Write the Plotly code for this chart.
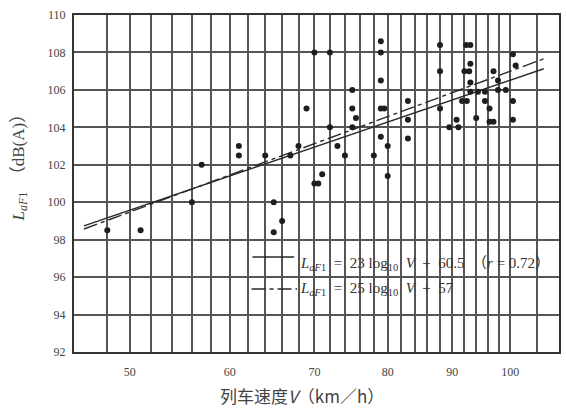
import math
import plotly.graph_objects as go

# ---- data ----
speed = [48, 51, 56, 57, 61, 61, 64, 65, 65, 66, 67, 68, 69, 70, 70, 70.5, 71,
         72, 72, 73, 74, 75, 75, 75.5, 75, 78, 79, 79, 79, 79, 79.5, 79, 80, 80,
         83, 83, 83, 88, 88, 88, 89.5, 90.7, 91, 92.3, 93, 93, 92, 92.8, 93, 93,
         91.6, 92.4, 94, 94.3, 95.5, 95.5, 96.3, 96.3, 97, 97, 97.8, 97.8, 99.2,
         100.5, 101, 100.5, 100.5]
level = [98.5, 98.5, 100.0, 102.0, 103.0, 102.5, 102.5, 100.0, 98.4, 99.0, 102.5,
         103.0, 105.0, 108.0, 101.0, 101.0, 101.5, 108.0, 104.0, 103.0, 102.5,
         106.0, 105.0, 104.5, 104.0, 102.5, 108.6, 108.0, 106.5, 105.0, 105.0,
         103.5, 103.0, 101.4, 105.4, 104.4, 103.4, 108.4, 107.0, 105.0, 104.0,
         104.4, 104.0, 108.4, 108.4, 107.4, 107.0, 107.0, 106.4, 105.9, 105.4,
         105.4, 104.5, 105.9, 105.9, 105.4, 105.0, 104.3, 104.3, 107.0, 106.5,
         106.0, 106.0, 107.9, 107.3, 105.4, 104.4]

fit_speed = [46, 106.3]
fit1_level = [98.74, 107.13]   # 23 log10 V + 60.5
fit2_level = [98.57, 107.66]   # 25 log10 V + 57

x_ticks = [50, 60, 70, 80, 90, 100]
x_ticktext = ["50", "60", "70", "80", "90", "100"]
x_minor_grid = [48, 52, 54, 56, 58, 62, 64, 66, 68, 72, 74, 76, 78,
                82, 84, 86, 88, 92, 94, 96, 98, 105]
y_ticks = [92, 94, 96, 98, 100, 102, 104, 106, 108, 110]

NB = "\u00a0"
S = NB * 2
legend1 = ("<i>L</i><sub><i>aF</i>1</sub>" + S + "=" + S + "23" + NB + "log<sub>10</sub>" + S
           + "<i>V</i>" + S + "+" + S + "60.5" + S + "（<i>r</i>" + NB + "=" + NB + "0.72）")
legend2 = ("<i>L</i><sub><i>aF</i>1</sub>" + S + "=" + S + "25" + NB + "log<sub>10</sub>" + S
           + "<i>V</i>" + S + "+" + S + "57")
x_title = "列车速度<i>V</i>（km／h）"
y_title = "<i>L</i><sub><i>aF</i>1</sub>　（dB(A)）"

INK = "#2a2a2a"
GRID = "#555555"
SERIF = "Liberation Serif, DejaVu Serif, Noto Sans CJK SC, serif"

fig = go.Figure()
fig.add_trace(go.Scatter(x=fit_speed, y=fit1_level, mode="lines",
                         line=dict(color=INK, width=1.4), showlegend=False))
fig.add_trace(go.Scatter(x=fit_speed, y=fit2_level, mode="lines",
                         line=dict(color=INK, width=1.4, dash="14px,4px,4px,4px"),
                         showlegend=False))
fig.add_trace(go.Scatter(x=speed, y=level, mode="markers",
                         marker=dict(color="#1e1e1e", size=6), showlegend=False))

fig.update_layout(
    width=566, height=410,
    margin=dict(l=74, r=5, t=15, b=58),
    paper_bgcolor="white", plot_bgcolor="white",
    font=dict(family=SERIF, color="#3a3a3a", size=12),
)
fig.update_xaxes(
    type="log", range=[1.6549, 2.0386],
    tickmode="array", tickvals=x_ticks, ticktext=x_ticktext,
    showgrid=True, gridcolor=GRID, gridwidth=1.5,
    minor=dict(tickmode="array", tickvals=x_minor_grid, showgrid=True,
               gridcolor=GRID, gridwidth=1.5, ticks=""),
    ticks="", ticklabelstandoff=8,
    tickfont=dict(size=12, color="#444"),
    showline=True, linecolor="#333", linewidth=2, mirror=True,
    zeroline=False,
)
fig.update_yaxes(
    range=[92, 110], tickvals=y_ticks,
    showgrid=True, gridcolor=GRID, gridwidth=1.5,
    ticks="", ticklabelstandoff=4,
    tickfont=dict(size=12, color="#444"),
    showline=True, linecolor="#333", linewidth=2, mirror=True,
    zeroline=False,
)

# legend block (white box covering grid)
fig.add_shape(type="rect", xref="paper", yref="paper",
              x0=0.331, x1=0.994, y0=0.119, y1=0.323,
              fillcolor="white", line=dict(width=0), layer="between")
fig.add_shape(type="line", xref="paper", yref="paper",
              x0=0.368, x1=0.454, y0=0.282, y1=0.282,
              line=dict(color=INK, width=1.4))
fig.add_shape(type="line", xref="paper", yref="paper",
              x0=0.366, x1=0.460, y0=0.187, y1=0.187,
              line=dict(color=INK, width=1.4, dash="14px,4px,4px,4px"))
fig.add_annotation(text=legend1, xref="paper", yref="paper", x=0.462, y=0.262,
                   xanchor="left", yanchor="middle", showarrow=False,
                   font=dict(family=SERIF, size=15, color="#333"))
fig.add_annotation(text=legend2, xref="paper", yref="paper", x=0.462, y=0.188,
                   xanchor="left", yanchor="middle", showarrow=False,
                   font=dict(family=SERIF, size=15, color="#333"))

fig.add_annotation(text=x_title, xref="paper", yref="paper", x=0.470, y=-0.128,
                   xanchor="center", yanchor="middle", showarrow=False,
                   font=dict(family="Noto Sans CJK SC, Liberation Serif", size=17, color="#444"))
fig.add_annotation(text=y_title, xref="paper", yref="paper", x=-0.111, y=0.56,
                   xanchor="center", yanchor="middle", showarrow=False, textangle=-90,
                   font=dict(family="Liberation Serif, Noto Sans CJK SC", size=17, color="#444"))

fig.write_html("out.html")
